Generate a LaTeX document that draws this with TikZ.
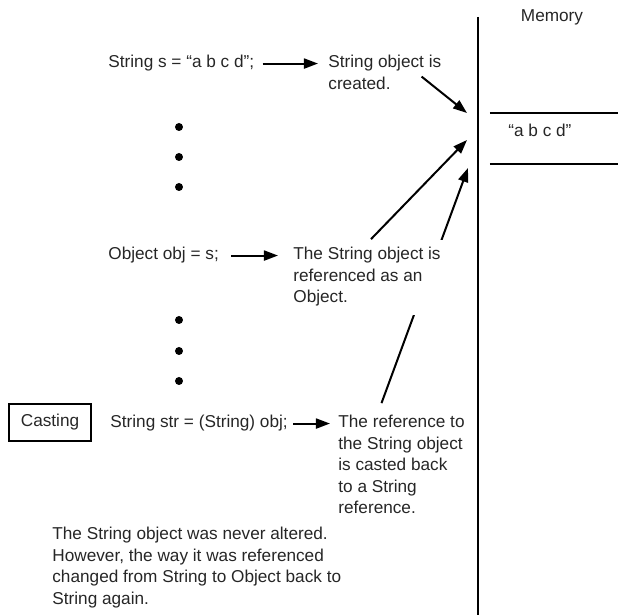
\documentclass[tikz,border=0pt]{standalone}
\usepackage{fontspec}
\setmainfont{Liberation Sans}
\usepackage{tikz}
\usetikzlibrary{arrows.meta,backgrounds}

\begin{document}
\begin{tikzpicture}[x=0.5pt,y=-0.5pt,
	txt/.style={font=\fontsize{8.6pt}{10.75pt}\selectfont, text=black!85, inner sep=0pt},
	desc/.style={txt, align=left, anchor=base west},
	arr/.style={line width=1pt, -{Triangle[length=7pt,width=5pt]}}]
			\useasboundingbox (0,0) rectangle (618,615);
			\node[txt, anchor=base west] (code1) at (108,68) {String s = “a b c d”;};
			\node[desc] (desc1) at (328,89.5) {String object is\\created.};
			\node[txt, anchor=base west] (code2) at (108,260) {Object obj = s;};
			\node[desc, fill=white, inner ysep=4pt, inner xsep=1pt] (desc2) at (291,303) {The String object is\\referenced as an\\Object.};
			\node[draw, line width=1pt, txt, minimum width=41pt, minimum height=18.5pt] (cast) at (50,422.5) {Casting};
			\node[txt, anchor=base west] (code3) at (110,428) {String str = (String) obj;};
			\node[desc] (desc3) at (338,514) {The reference to\\the String object\\is casted back\\to a String\\reference.};
			\node[desc] (note) at (52,604.5) {The String object was never altered.\\However, the way it was referenced\\changed from String to Object back to\\String again.};
			\node[txt, anchor=base] (mem) at (552,22) {Memory};
			\node[txt, anchor=base west] (cell) at (508,137) {“a b c d”};
			\foreach \y in {127,157,187,320,351,381}
				\fill (179,\y) circle (2pt);
			\draw[line width=1pt] (478,17) -- (478,615);
			\draw[line width=1pt] (490,113) -- (618,113);
			\draw[line width=1pt] (490,164) -- (618,164);
			\coordinate (mA) at (467,113);
			\coordinate (mB) at (467,140);
			\coordinate (mC) at (468,168);
			\draw[arr, shorten <=4pt, shorten >=5pt] (code1.east) -- (code1.east -| desc1.west);
			\draw[arr, shorten <=6pt, shorten >=6.5pt] (code2.east) -- (code2.east -| desc2.west);
			\draw[arr, shorten <=2.5pt, shorten >=4pt] (code3.east) -- (code3.east -| desc3.west);
			\draw[arr] ([shift={(-10pt,-2pt)}]desc1.east) -- (mA);
			\draw[arr] ([xshift=2pt]desc2.north) -- (mB);
			\begin{pgfonlayer}{background}
				\draw[arr] ([shift={(-10pt,6pt)}]desc3.north) -- (mC);
			\end{pgfonlayer}
		\end{tikzpicture}
\end{document}
